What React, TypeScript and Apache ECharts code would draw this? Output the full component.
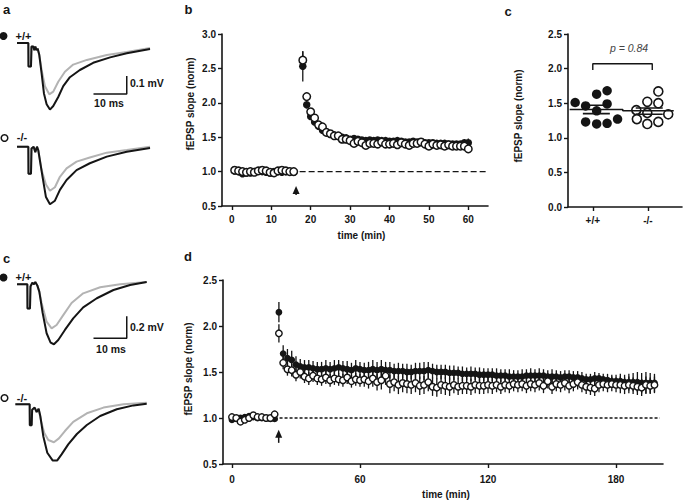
import React, { useEffect, useRef } from 'react';
import * as echarts from 'echarts';

const FONT = '"Liberation Sans", Arial, Helvetica, sans-serif';
const INK = '#151515';
const GREY = '#b3b3b3';

// ---------- example traces (time in ms, amplitude in mV) ----------
const aWtPre = [[0,0],[3.4,0],[3.45,-0.13],[4.2,-0.13],[4.35,-0.02],[4.9,-0.02],[5.2,-0.04],[5.5,-0.02],[5.9,-0.04],[6.2,-0.03],[6.7,-0.067],[7.4,-0.15],[8.4,-0.24],[9.7,-0.285],[10.9,-0.27],[12.4,-0.215],[14.4,-0.16],[16.9,-0.12],[21,-0.094],[27,-0.067],[33,-0.05],[40,-0.028]];
const aWtPost = [[0,0],[3.4,0],[3.45,-0.13],[4.2,-0.13],[4.35,-0.02],[4.9,-0.02],[5.2,-0.04],[5.5,-0.02],[5.9,-0.04],[6.2,-0.03],[6.7,-0.067],[7.4,-0.17],[8.1,-0.28],[8.9,-0.34],[9.9,-0.37],[10.9,-0.35],[12.4,-0.30],[13.9,-0.24],[15.9,-0.19],[18.9,-0.15],[22.9,-0.11],[28,-0.08],[33,-0.057],[40,-0.033]];
const aKoPre = [[0,0],[3.4,0],[3.45,-0.15],[4.2,-0.15],[4.35,-0.01],[5,0],[5.5,-0.03],[6,0],[6.4,-0.02],[6.7,-0.055],[7.4,-0.13],[8.7,-0.21],[9.9,-0.245],[11.4,-0.225],[12.9,-0.167],[14.9,-0.12],[17.9,-0.083],[21.9,-0.06],[27,-0.033],[33,-0.018],[40,0]];
const aKoPost = [[0,0],[3.4,0],[3.45,-0.15],[4.2,-0.15],[4.35,-0.01],[5,0],[5.5,-0.03],[6,0],[6.4,-0.02],[6.7,-0.055],[7.7,-0.17],[8.7,-0.28],[9.9,-0.32],[11.4,-0.30],[12.9,-0.24],[14.9,-0.185],[17.9,-0.13],[21.9,-0.092],[27,-0.055],[33,-0.028],[40,-0.007]];
const cWtPre = [[0,0],[3.1,0],[3.15,-0.22],[3.9,-0.22],[4.05,-0.02],[4.6,0.015],[5.1,0],[5.5,0.02],[6.1,-0.01],[6.7,-0.067],[7.4,-0.17],[8.9,-0.34],[10.4,-0.40],[11.9,-0.37],[13.9,-0.28],[16.4,-0.17],[19.9,-0.082],[25,-0.027],[31,0],[39,0.02]];
const cWtPost = [[0,0],[3.1,0],[3.15,-0.22],[3.9,-0.22],[4.05,-0.02],[4.6,0.015],[5.1,0],[5.5,0.02],[6.1,-0.01],[6.7,-0.067],[7.7,-0.26],[8.9,-0.445],[10.1,-0.53],[11.1,-0.545],[12.4,-0.506],[14.4,-0.415],[16.9,-0.31],[19.9,-0.21],[24,-0.127],[29,-0.052],[34,-0.006],[39,0.02]];
const cKoPre = [[-0.5,0],[3.8,0],[3.85,-0.19],[4.4,-0.19],[4.55,-0.05],[5.3,-0.03],[5.9,-0.07],[6.5,-0.04],[7.2,-0.15],[8.2,-0.26],[9.4,-0.325],[11.1,-0.345],[12.6,-0.31],[14.4,-0.243],[16.9,-0.16],[21,-0.082],[26,-0.03],[32,0],[39,0.015]];
const cKoPost = [[-0.5,0],[3.8,0],[3.85,-0.19],[4.4,-0.19],[4.55,-0.05],[5.3,-0.03],[5.9,-0.07],[6.5,-0.04],[7,-0.106],[7.9,-0.29],[9.1,-0.44],[10.7,-0.51],[12.1,-0.51],[13.4,-0.455],[15.4,-0.364],[18,-0.27],[21,-0.188],[25,-0.106],[30,-0.045],[35,-0.01],[39,0.006]];
const aScaleBar = [[23,-0.283],[33,-0.283],[33,-0.183]];   // 10 ms, 0.1 mV
const cScaleBar = [[23,-0.49],[33,-0.49],[33,-0.29]];      // 10 ms, 0.2 mV

// ---------- panel b (time in min, normalised fEPSP slope) ----------
const bTimes = [0.7,1.7,2.7,3.7,4.7,5.7,6.7,7.7,8.7,9.7,10.7,11.7,12.7,13.7,14.7,15.7,
  18,19,20,21,22,23,24,25,26,27,28,29,30,31,32,33,34,35,36,37,38,39,40,41,42,43,44,45,46,47,48,49,50,51,52,53,54,55,56,57,58,59,60];
const bWt = [1.01,1.00,0.97,0.98,0.98,1.00,1.01,1.00,0.99,0.98,1.00,1.00,0.99,1.00,1.00,0.99,
  2.53,1.97,1.80,1.72,1.66,1.60,1.57,1.55,1.53,1.51,1.50,1.49,1.47,1.48,1.47,1.46,1.45,1.46,1.45,1.46,1.45,1.45,1.44,1.44,1.45,1.44,1.43,1.43,1.44,1.43,1.43,1.42,1.42,1.42,1.41,1.41,1.41,1.40,1.40,1.40,1.40,1.42,1.42];
const bKo = [1.02,1.01,1.00,0.99,1.00,0.99,1.01,1.02,1.01,0.99,0.98,1.01,1.02,1.01,1.00,1.00,
  2.62,2.09,1.87,1.78,1.68,1.65,1.57,1.55,1.52,1.52,1.47,1.47,1.45,1.41,1.44,1.42,1.38,1.41,1.41,1.40,1.43,1.40,1.40,1.41,1.39,1.42,1.40,1.38,1.41,1.41,1.43,1.40,1.37,1.40,1.38,1.39,1.37,1.39,1.37,1.37,1.37,1.37,1.33];
const bWtErr = [0.02,0.02,0.02,0.02,0.02,0.02,0.02,0.02,0.02,0.02,0.02,0.02,0.02,0.02,0.02,0.02,
  0.22,0.05,0.04,0.04,0.04,0.03,0.03,0.03,0.03,0.03,0.03,0.03,0.03,0.03,0.03,0.03,0.03,0.03,0.03,0.03,0.03,0.03,0.03,0.03,0.03,0.03,0.03,0.03,0.03,0.03,0.03,0.03,0.03,0.03,0.03,0.03,0.03,0.03,0.03,0.03,0.04,0.05,0.06];
const bKoErr = [0.02,0.02,0.02,0.02,0.02,0.02,0.02,0.02,0.02,0.02,0.02,0.02,0.02,0.02,0.02,0.02,
  0.13,0.05,0.04,0.04,0.03,0.03,0.03,0.03,0.03,0.03,0.03,0.03,0.03,0.03,0.03,0.03,0.03,0.03,0.03,0.03,0.03,0.03,0.03,0.03,0.03,0.03,0.03,0.03,0.03,0.03,0.03,0.03,0.03,0.03,0.03,0.03,0.03,0.03,0.03,0.03,0.03,0.03,0.04];
const bTicks = [0,10,20,30,40,50,60];
const bArrow = [[16.3,0.79,0.66]];

// ---------- panel c (scatter, individual slices) ----------
const cGroups = ['+/+','-/-'];
const cWtX = [0.68,0.87,1.07,1.26,1.26,1.07,0.87,1.07,1.26,1.45];
const cWtY = [1.51,1.46,1.63,1.68,1.49,1.39,1.23,1.20,1.21,1.27];
const cKoX = [1.79,1.99,2.19,2.19,1.99,1.80,1.99,2.19,2.37];
const cKoY = [1.40,1.52,1.67,1.50,1.36,1.27,1.20,1.23,1.34];
const cMean = [1.41,1.39];
const cSemUp = [1.47,1.43];
const cSemLo = [1.35,1.34];

// ---------- panel d ----------
const dTimes = [0,2,4,6,8,10,12,14,16,18,20,22,24,26,28,30,32,34,36,38,40,42,44,46,48,50,52,54,56,58,60,62,64,66,68,70,72,74,76,78,80,82,84,86,88,90,92,94,96,98,100,102,104,106,108,110,112,114,116,118,120,122,124,126,128,130,132,134,136,138,140,142,144,146,148,150,152,154,156,158,160,162,164,166,168,170,172,174,176,178,180,182,184,186,188,190,192,194,196,198];
const dWt = [0.98,0.99,1.00,1.01,1.02,1.01,1.00,1.00,1.00,0.99,0.99,
  2.15,1.70,1.65,1.63,1.58,1.56,1.55,1.55,1.54,1.53,
  1.53,1.54,1.53,1.54,1.55,1.54,1.53,1.52,1.54,1.53,
  1.52,1.52,1.53,1.52,1.53,1.52,1.52,1.51,1.51,1.51,
  1.50,1.50,1.51,1.51,1.51,1.52,1.51,1.50,1.50,1.50,
  1.49,1.49,1.49,1.48,1.48,1.48,1.48,1.47,1.47,1.47,
  1.47,1.46,1.46,1.46,1.45,1.45,1.45,1.45,1.46,1.46,
  1.46,1.46,1.46,1.45,1.45,1.45,1.44,1.45,1.45,1.44,
  1.44,1.43,1.42,1.42,1.43,1.43,1.42,1.41,1.40,1.40,
  1.40,1.39,1.39,1.39,1.39,1.38,1.38,1.38,1.38];
const dKo = [1.01,1.00,0.96,0.98,1.00,1.03,1.01,1.01,1.00,1.00,1.04,
  1.92,1.60,1.53,1.52,1.47,1.50,1.45,1.43,1.46,1.43,
  1.42,1.44,1.41,1.43,1.42,1.41,1.44,1.40,1.42,1.41,
  1.42,1.40,1.43,1.39,1.41,1.46,1.37,1.39,1.36,1.38,
  1.37,1.36,1.38,1.35,1.36,1.39,1.34,1.33,1.36,1.35,
  1.34,1.36,1.34,1.35,1.35,1.34,1.36,1.35,1.35,1.36,
  1.35,1.36,1.34,1.36,1.35,1.37,1.36,1.37,1.35,1.37,
  1.36,1.38,1.35,1.40,1.34,1.37,1.36,1.38,1.35,1.37,
  1.39,1.36,1.34,1.33,1.32,1.36,1.37,1.36,1.37,1.36,
  1.36,1.35,1.36,1.35,1.34,1.33,1.36,1.35,1.36];
const dWtErr = [0.02,0.02,0.02,0.02,0.02,0.02,0.02,0.02,0.02,0.02,0.02,
  0.11,0.09,0.10,0.10,0.09,0.08,0.08,0.08,0.08,0.08,
  0.08,0.09,0.08,0.09,0.08,0.08,0.09,0.08,0.09,0.08,
  0.08,0.09,0.10,0.09,0.10,0.09,0.09,0.08,0.09,0.08,
  0.09,0.08,0.09,0.09,0.10,0.09,0.08,0.08,0.08,0.08,
  0.08,0.08,0.07,0.08,0.07,0.08,0.07,0.08,0.07,0.07,
  0.07,0.08,0.07,0.07,0.08,0.07,0.07,0.08,0.07,0.08,
  0.07,0.08,0.07,0.07,0.08,0.07,0.07,0.07,0.07,0.07,
  0.07,0.07,0.06,0.06,0.07,0.06,0.06,0.07,0.07,0.07,
  0.08,0.08,0.09,0.10,0.11,0.11,0.12,0.11,0.10];
const dKoErr = [0.02,0.02,0.02,0.02,0.02,0.02,0.02,0.02,0.02,0.02,0.02,
  0.10,0.07,0.07,0.07,0.07,0.07,0.07,0.07,0.07,0.07,
  0.07,0.07,0.07,0.07,0.07,0.07,0.07,0.07,0.07,0.07,
  0.08,0.08,0.09,0.09,0.10,0.10,0.10,0.10,0.10,0.10,
  0.10,0.10,0.10,0.10,0.10,0.10,0.10,0.10,0.10,0.10,
  0.10,0.09,0.09,0.09,0.09,0.09,0.09,0.09,0.09,0.09,
  0.09,0.08,0.08,0.08,0.08,0.08,0.08,0.08,0.08,0.08,
  0.08,0.08,0.08,0.08,0.08,0.08,0.08,0.08,0.08,0.08,
  0.08,0.08,0.08,0.08,0.08,0.08,0.08,0.08,0.08,0.08,
  0.09,0.09,0.09,0.09,0.09,0.09,0.09,0.09,0.09];
const dTicks = [0,60,120,180];
const dArrow = [[21.9,0.873,0.73]];

const zip3 = (x: number[], y: number[], e: number[]) => x.map((t, i) => [t, y[i], e[i]]);
const zip2 = (x: number[], y: number[]) => x.map((t, i) => [t, y[i]]);

const errRender = (_p: any, api: any) => {
  const x = api.value(0), y = api.value(1), e = api.value(2);
  const a = api.coord([x, y + e]);
  const b = api.coord([x, y - e]);
  return { type: 'line', shape: { x1: a[0], y1: a[1], x2: b[0], y2: b[1] }, style: { stroke: INK, lineWidth: 1.3 } };
};
const arrowRender = (_p: any, api: any) => {
  const tip = api.coord([api.value(0), api.value(1)]);
  const tail = api.coord([api.value(0), api.value(2)]);
  return {
    type: 'group',
    children: [
      { type: 'polygon', shape: { points: [[tip[0], tip[1]], [tip[0] - 3.5, tip[1] + 8], [tip[0] + 3.5, tip[1] + 8]] }, style: { fill: INK } },
      { type: 'line', shape: { x1: tip[0], y1: tip[1] + 6, x2: tail[0], y2: tail[1] }, style: { stroke: INK, lineWidth: 1.5 } },
    ],
  };
};

const labelStyle = { color: INK, fontFamily: FONT, fontWeight: 'bold' as const, fontSize: 10 };
const axisLineStyle = { onZero: false, lineStyle: { color: INK, width: 1.6 } };
const tickStyle = { length: 4, lineStyle: { color: INK, width: 1.4 } };
const filled = { color: INK, opacity: 1 };
const open = (w: number) => ({ color: '#fff', borderColor: INK, borderWidth: w, opacity: 1 });

const hiddenAxes = (i: number, ymin: number, ymax: number) => ({
  x: { type: 'value', gridIndex: i, min: -1, max: 41, show: false },
  y: { type: 'value', gridIndex: i, min: ymin, max: ymax, show: false },
});

const traceSeries = (i: number, data: number[][], color: string) => ({
  type: 'line', xAxisIndex: i, yAxisIndex: i, data, symbol: 'none', silent: true, clip: false,
  lineStyle: { color, width: 2 }, z: color === INK ? 3 : 2,
});

const txt = (text: string, x: number, y: number, extra: any = {}, rotation = 0) => ({
  type: 'text', x, y, rotation,
  style: { text, fill: INK, font: `bold 10px ${FONT}`, align: 'center', verticalAlign: 'middle', ...extra },
});

export default function App() {
  const ref = useRef<HTMLDivElement>(null);
  useEffect(() => {
    const chart = echarts.init(ref.current!, null, { renderer: 'svg' });
    const tr = [hiddenAxes(0, -0.45, 0.1), hiddenAxes(1, -0.45, 0.1), hiddenAxes(2, -0.65, 0.1), hiddenAxes(3, -0.65, 0.1)];
    const option: any = {
      animation: false,
      backgroundColor: '#fff',
      grid: [
        { left: 13.7, top: 25, width: 139.65, height: 99 },
        { left: 13.7, top: 128.7, width: 139.65, height: 99 },
        { left: 13.7, top: 273.3, width: 139.65, height: 82.5 },
        { left: 13.7, top: 393.3, width: 139.65, height: 82.5 },
        { left: 222, top: 34, width: 266, height: 172 },
        { left: 568, top: 34, width: 114, height: 173 },
        { left: 223, top: 280, width: 440, height: 184 },
      ],
      xAxis: [
        tr[0].x, tr[1].x, tr[2].x, tr[3].x,
        { type: 'value', gridIndex: 4, min: -2.5, max: 65, axisLine: axisLineStyle, splitLine: { show: false },
          axisTick: { ...tickStyle, customValues: bTicks }, axisLabel: { ...labelStyle, margin: 8, customValues: bTicks } },
        { type: 'value', gridIndex: 5, min: 0.55, max: 2.62, axisLine: axisLineStyle, splitLine: { show: false },
          axisTick: { ...tickStyle, customValues: [1, 2] },
          axisLabel: { ...labelStyle, margin: 8, customValues: [1, 2], formatter: (v: number) => cGroups[Math.round(v) - 1] } },
        { type: 'value', gridIndex: 6, min: -4.2, max: 202, axisLine: axisLineStyle, splitLine: { show: false },
          axisTick: { ...tickStyle, customValues: dTicks }, axisLabel: { ...labelStyle, margin: 10, customValues: dTicks } },
      ],
      yAxis: [
        tr[0].y, tr[1].y, tr[2].y, tr[3].y,
        { type: 'value', gridIndex: 4, min: 0.5, max: 3.0, interval: 0.5, axisLine: axisLineStyle, splitLine: { show: false },
          axisTick: tickStyle, axisLabel: { ...labelStyle, margin: 6, formatter: (v: number) => v.toFixed(1) } },
        { type: 'value', gridIndex: 5, min: 0, max: 2.5, interval: 0.5, axisLine: axisLineStyle, splitLine: { show: false },
          axisTick: tickStyle, axisLabel: { ...labelStyle, margin: 6, formatter: (v: number) => v.toFixed(1) } },
        { type: 'value', gridIndex: 6, min: 0.5, max: 2.5, interval: 0.5, axisLine: axisLineStyle, splitLine: { show: false },
          axisTick: tickStyle, axisLabel: { ...labelStyle, margin: 6, formatter: (v: number) => v.toFixed(1) } },
      ],
      series: [
        // traces
        traceSeries(0, aWtPre, GREY), traceSeries(0, aWtPost, INK),
        traceSeries(1, aKoPre, GREY), traceSeries(1, aKoPost, INK),
        traceSeries(2, cWtPre, GREY), traceSeries(2, cWtPost, INK),
        traceSeries(3, cKoPre, GREY), traceSeries(3, cKoPost, INK),
        { type: 'line', xAxisIndex: 0, yAxisIndex: 0, data: aScaleBar, symbol: 'none', clip: false, lineStyle: { color: INK, width: 1.5 } },
        { type: 'line', xAxisIndex: 2, yAxisIndex: 2, data: cScaleBar, symbol: 'none', clip: false, lineStyle: { color: INK, width: 1.5 } },
        // panel b
        { type: 'line', xAxisIndex: 4, yAxisIndex: 4, data: [[17.2, 1], [65, 1]], symbol: 'none', lineStyle: { color: INK, width: 1.4, type: [6, 3] } },
        { type: 'custom', xAxisIndex: 4, yAxisIndex: 4, renderItem: errRender, data: zip3(bTimes, bWt, bWtErr), encode: { x: 0, y: 1 }, z: 3 },
        { type: 'custom', xAxisIndex: 4, yAxisIndex: 4, renderItem: errRender, data: zip3(bTimes, bKo, bKoErr), encode: { x: 0, y: 1 }, z: 3 },
        { type: 'scatter', xAxisIndex: 4, yAxisIndex: 4, data: zip2(bTimes, bWt), symbol: 'circle', symbolSize: 7.5, itemStyle: filled, z: 4 },
        { type: 'scatter', xAxisIndex: 4, yAxisIndex: 4, data: zip2(bTimes, bKo), symbol: 'circle', symbolSize: 7.5, itemStyle: open(1.5), z: 5 },
        { type: 'custom', xAxisIndex: 4, yAxisIndex: 4, renderItem: arrowRender, data: bArrow, clip: false, z: 5 },
        // panel c scatter
        { type: 'scatter', xAxisIndex: 5, yAxisIndex: 5, data: zip2(cWtX, cWtY), symbol: 'circle', symbolSize: 9.5, itemStyle: filled, z: 3 },
        { type: 'scatter', xAxisIndex: 5, yAxisIndex: 5, data: zip2(cKoX, cKoY), symbol: 'circle', symbolSize: 9, itemStyle: open(1.6), z: 3 },
        { type: 'line', xAxisIndex: 5, yAxisIndex: 5, data: [[0.58, cMean[0]], [1.545, cMean[0]], [1.545, cMean[1]], [2.47, cMean[1]]], symbol: 'none', lineStyle: { color: INK, width: 1.6 }, z: 4 },
        { type: 'line', xAxisIndex: 5, yAxisIndex: 5, data: [[0.82, cSemUp[0]], [1.31, cSemUp[0]]], symbol: 'none', lineStyle: { color: INK, width: 1.6 }, z: 4 },
        { type: 'line', xAxisIndex: 5, yAxisIndex: 5, data: [[0.82, cSemLo[0]], [1.31, cSemLo[0]]], symbol: 'none', lineStyle: { color: INK, width: 1.6 }, z: 4 },
        { type: 'line', xAxisIndex: 5, yAxisIndex: 5, data: [[1.78, cSemUp[1]], [2.27, cSemUp[1]]], symbol: 'none', lineStyle: { color: INK, width: 1.6 }, z: 4 },
        { type: 'line', xAxisIndex: 5, yAxisIndex: 5, data: [[1.78, cSemLo[1]], [2.27, cSemLo[1]]], symbol: 'none', lineStyle: { color: INK, width: 1.6 }, z: 4 },
        { type: 'line', xAxisIndex: 5, yAxisIndex: 5, data: [[1, 1.98], [1, 2.07], [2.08, 2.07], [2.08, 1.98]], symbol: 'none', lineStyle: { color: INK, width: 1.4 }, z: 4 },
        // panel d
        { type: 'line', xAxisIndex: 6, yAxisIndex: 6, data: [[22.3, 1], [200.5, 1]], symbol: 'none', lineStyle: { color: INK, width: 1.3, type: [3, 2] } },
        { type: 'custom', xAxisIndex: 6, yAxisIndex: 6, renderItem: errRender, data: zip3(dTimes, dWt, dWtErr), encode: { x: 0, y: 1 }, z: 3 },
        { type: 'custom', xAxisIndex: 6, yAxisIndex: 6, renderItem: errRender, data: zip3(dTimes, dKo, dKoErr), encode: { x: 0, y: 1 }, z: 3 },
        { type: 'scatter', xAxisIndex: 6, yAxisIndex: 6, data: zip2(dTimes, dWt), symbol: 'circle', symbolSize: 6.8, itemStyle: filled, z: 4 },
        { type: 'scatter', xAxisIndex: 6, yAxisIndex: 6, data: zip2(dTimes, dKo), symbol: 'circle', symbolSize: 6.5, itemStyle: open(1.4), z: 5 },
        { type: 'custom', xAxisIndex: 6, yAxisIndex: 6, renderItem: arrowRender, data: dArrow, clip: false, z: 5 },
      ],
      graphic: [
        txt('a', 6.5, 9, { font: `bold 13px ${FONT}` }),
        txt('b', 188.5, 9, { font: `bold 13px ${FONT}` }),
        txt('c', 508, 11, { font: `bold 13px ${FONT}` }),
        txt('c', 6.5, 258, { font: `bold 13px ${FONT}` }),
        txt('d', 188, 256, { font: `bold 13px ${FONT}` }),
        { type: 'circle', shape: { cx: 3.5, cy: 36, r: 4 }, style: { fill: INK } },
        txt('+/+', 23.5, 36, { font: `bold 11px ${FONT}` }),
        { type: 'circle', shape: { cx: 4.5, cy: 138, r: 3.3 }, style: { fill: '#fff', stroke: INK, lineWidth: 1.5 } },
        txt('-/-', 22, 137, { font: `bold 11px ${FONT}` }),
        { type: 'circle', shape: { cx: 3.5, cy: 277.5, r: 4 }, style: { fill: INK } },
        txt('+/+', 23.5, 277, { font: `bold 11px ${FONT}` }),
        { type: 'circle', shape: { cx: 4.5, cy: 398, r: 3.3 }, style: { fill: '#fff', stroke: INK, lineWidth: 1.5 } },
        txt('-/-', 22, 397.5, { font: `bold 11px ${FONT}` }),
        txt('0.1 mV', 130, 83, { align: 'left', font: `bold 10.5px ${FONT}` }),
        txt('10 ms', 109, 103, { font: `bold 10.5px ${FONT}` }),
        txt('0.2 mV', 130, 327, { align: 'left', font: `bold 10.5px ${FONT}` }),
        txt('10 ms', 111, 348.5, { font: `bold 10.5px ${FONT}` }),
        txt('fEPSP slope (norm)', 190, 104, {}, Math.PI / 2),
        txt('fEPSP slope (norm)', 518, 116, {}, Math.PI / 2),
        txt('fEPSP slope (norm)', 188, 369, {}, Math.PI / 2),
        txt('time (min)', 361.5, 235),
        txt('time (min)', 446, 494.5),
        txt('p = 0.84', 629, 48, { font: `italic 10.5px ${FONT}`, fill: '#444' }),
      ],
    };
    chart.setOption(option);
    return () => chart.dispose();
  }, []);
  return <div ref={ref} style={{ position: 'fixed', left: 0, top: 0, width: 685, height: 503 }} />;
}
